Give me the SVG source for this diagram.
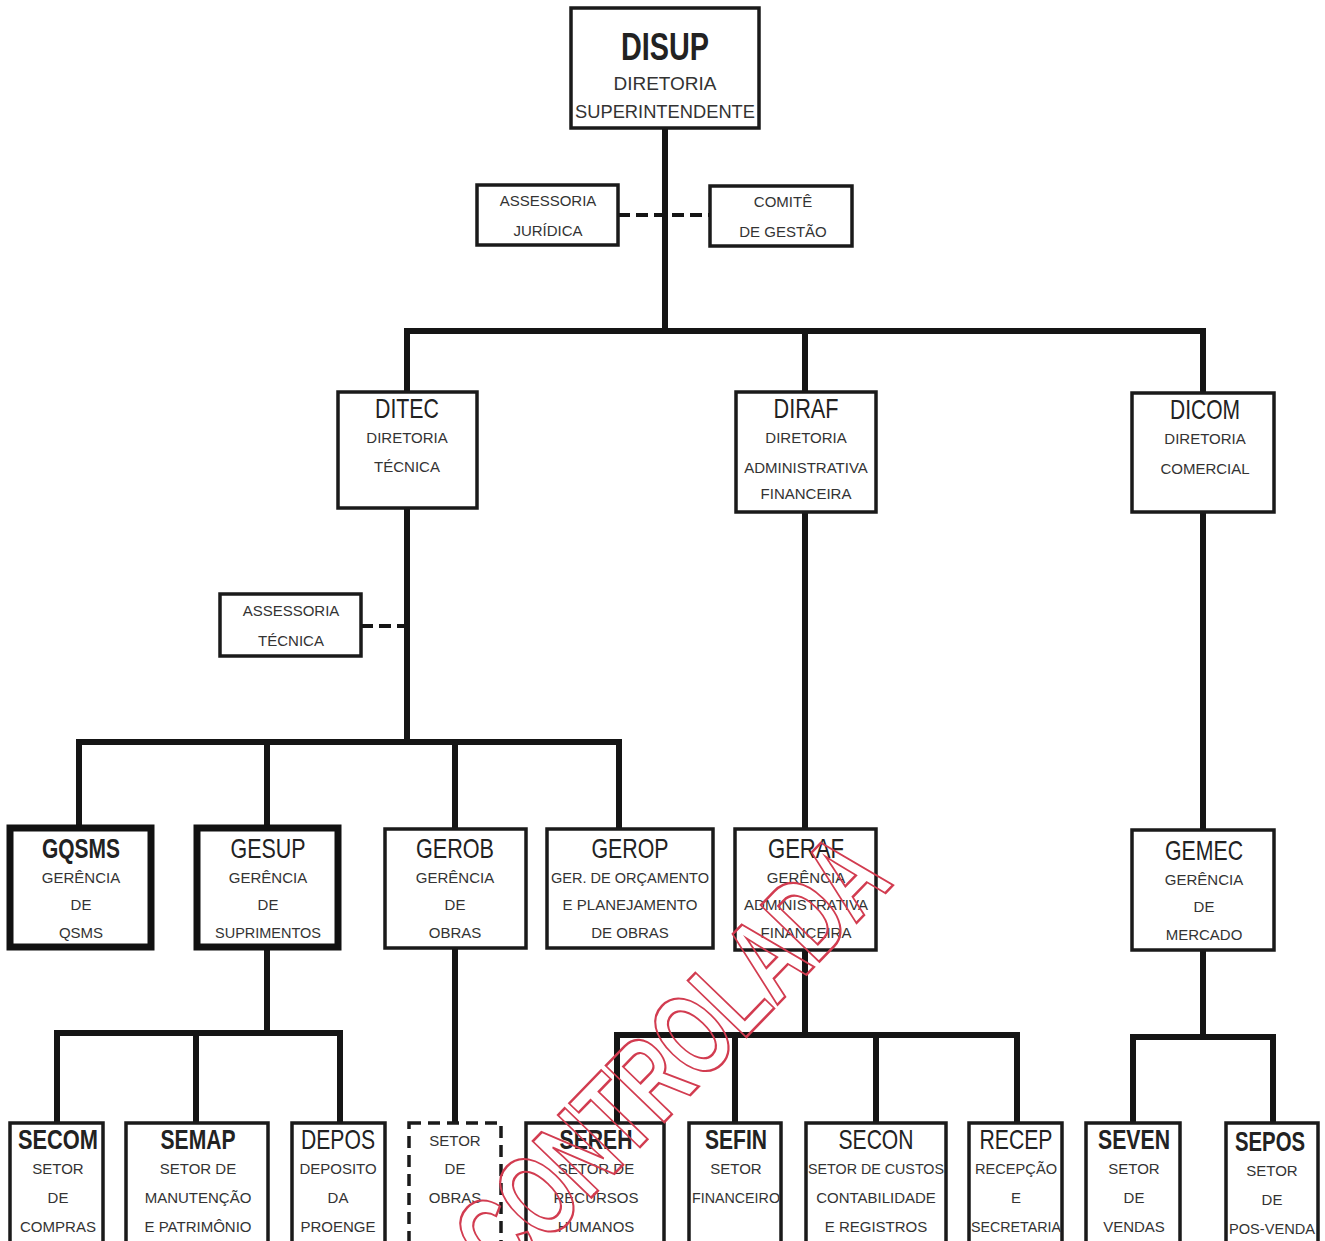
<svg xmlns="http://www.w3.org/2000/svg" width="1325" height="1241" viewBox="0 0 1325 1241">
<style>
.box{fill:#fff;stroke:#1a1a1a;stroke-width:3.5}
.thick{fill:#fff;stroke:#111;stroke-width:7}
.dbox{fill:#fff;stroke:#1a1a1a;stroke-width:3.5;stroke-dasharray:12 7}
.t{font-family:"Liberation Sans",Arial,sans-serif;font-size:28px;fill:#222;text-anchor:middle}
.tb{font-weight:bold}
.s{font-family:"Liberation Sans",Arial,sans-serif;font-size:15px;fill:#333;text-anchor:middle}
.c{fill:none;stroke:#151515;stroke-width:6}
.cd{fill:none;stroke:#151515;stroke-width:4;stroke-dasharray:12 6}
.wm{font-family:"Liberation Sans",Arial,sans-serif;font-weight:bold;font-size:118px;fill:none;stroke:#d23c50;stroke-width:2.5;text-anchor:middle}
</style>
<rect width="1325" height="1241" fill="#fff"/>
<g id="connectors">
<path class="c" d="M665 128V331M404 331H1206M407 331V392M805 331V392M1203 331V393"/>
<path class="cd" d="M618 215H710"/>
<path class="c" d="M407 508V742M76 742H622M79 742V826M267 742V826M455 742V828M619 742V828"/>
<path class="cd" d="M361 626H407"/>
<path class="c" d="M805 512V828M1203 512V830"/>
<path class="c" d="M267 948V1033M54 1033H343M57 1033V1123M196 1033V1123M340 1033V1123"/>
<path class="c" d="M455 948V1123"/>
<path class="c" d="M805 950V1035M614 1035H1020M617 1035V1123M735 1035V1123M876 1035V1123M1017 1035V1123"/>
<path class="c" d="M1203 950V1037M1130 1037H1276M1133 1037V1123M1273 1037V1123"/>
</g>
<g id="disup"><rect class="box" x="571" y="8" width="188" height="120"/>
<text class="t tb" x="665" y="60" style="font-size:38px" textLength="88" lengthAdjust="spacingAndGlyphs">DISUP</text>
<text class="s" x="665" y="90" style="font-size:19px">DIRETORIA</text>
<text class="s" x="665" y="118" style="font-size:19px" textLength="180" lengthAdjust="spacingAndGlyphs">SUPERINTENDENTE</text></g>
<g id="ass-juridica"><rect class="box" x="477" y="185" width="141" height="60"/>
<text class="s" x="548" y="206">ASSESSORIA</text><text class="s" x="548" y="236">JURÍDICA</text></g>
<g id="comite"><rect class="box" x="710" y="186" width="142" height="60"/>
<text class="s" x="783" y="207">COMITÊ</text><text class="s" x="783" y="237">DE GESTÃO</text></g>
<g id="ditec"><rect class="box" x="338" y="392" width="139" height="116"/>
<text class="t" x="407" y="418" textLength="64" lengthAdjust="spacingAndGlyphs">DITEC</text>
<text class="s" x="407" y="443">DIRETORIA</text><text class="s" x="407" y="472">TÉCNICA</text></g>
<g id="diraf"><rect class="box" x="736" y="392" width="140" height="120"/>
<text class="t" x="806" y="418" textLength="65" lengthAdjust="spacingAndGlyphs">DIRAF</text>
<text class="s" x="806" y="443">DIRETORIA</text><text class="s" x="806" y="473">ADMINISTRATIVA</text><text class="s" x="806" y="499">FINANCEIRA</text></g>
<g id="dicom"><rect class="box" x="1132" y="393" width="142" height="119"/>
<text class="t" x="1205" y="419" textLength="70" lengthAdjust="spacingAndGlyphs">DICOM</text>
<text class="s" x="1205" y="444">DIRETORIA</text><text class="s" x="1205" y="474">COMERCIAL</text></g>
<g id="ass-tecnica"><rect class="box" x="220" y="594" width="141" height="62"/>
<text class="s" x="291" y="616">ASSESSORIA</text><text class="s" x="291" y="646">TÉCNICA</text></g>
<g id="gqsms"><rect class="thick" x="10" y="828" width="141" height="119"/>
<text class="t tb" x="81" y="858" textLength="78" lengthAdjust="spacingAndGlyphs">GQSMS</text>
<text class="s" x="81" y="883">GERÊNCIA</text><text class="s" x="81" y="910">DE</text><text class="s" x="81" y="938">QSMS</text></g>
<g id="gesup"><rect class="thick" x="197" y="828" width="141" height="119"/>
<text class="t" x="268" y="858" textLength="75" lengthAdjust="spacingAndGlyphs">GESUP</text>
<text class="s" x="268" y="883">GERÊNCIA</text><text class="s" x="268" y="910">DE</text><text class="s" x="268" y="938" textLength="106" lengthAdjust="spacingAndGlyphs">SUPRIMENTOS</text></g>
<g id="gerob"><rect class="box" x="385" y="829" width="141" height="119"/>
<text class="t" x="455" y="858" textLength="78" lengthAdjust="spacingAndGlyphs">GEROB</text>
<text class="s" x="455" y="883">GERÊNCIA</text><text class="s" x="455" y="910">DE</text><text class="s" x="455" y="938">OBRAS</text></g>
<g id="gerop"><rect class="box" x="547" y="829" width="166" height="119"/>
<text class="t" x="630" y="858" textLength="77" lengthAdjust="spacingAndGlyphs">GEROP</text>
<text class="s" x="630" y="883" textLength="158" lengthAdjust="spacingAndGlyphs">GER. DE ORÇAMENTO</text><text class="s" x="630" y="910">E PLANEJAMENTO</text><text class="s" x="630" y="938">DE OBRAS</text></g>
<g id="geraf"><rect class="box" x="735" y="829" width="141" height="121"/>
<text class="t" x="806" y="858" textLength="76" lengthAdjust="spacingAndGlyphs">GERAF</text>
<text class="s" x="806" y="883">GERÊNCIA</text><text class="s" x="806" y="910" textLength="124" lengthAdjust="spacingAndGlyphs">ADMINISTRATIVA</text><text class="s" x="806" y="938">FINANCEIRA</text></g>
<g id="gemec"><rect class="box" x="1132" y="830" width="142" height="120"/>
<text class="t" x="1204" y="860" textLength="78" lengthAdjust="spacingAndGlyphs">GEMEC</text>
<text class="s" x="1204" y="885">GERÊNCIA</text><text class="s" x="1204" y="912">DE</text><text class="s" x="1204" y="940">MERCADO</text></g>
<g id="secom"><rect class="box" x="10" y="1123" width="93" height="120"/>
<text class="t tb" x="58" y="1149" textLength="80" lengthAdjust="spacingAndGlyphs">SECOM</text>
<text class="s" x="58" y="1174">SETOR</text><text class="s" x="58" y="1203">DE</text><text class="s" x="58" y="1232" textLength="76" lengthAdjust="spacingAndGlyphs">COMPRAS</text></g>
<g id="semap"><rect class="box" x="126" y="1123" width="142" height="120"/>
<text class="t tb" x="198" y="1149" textLength="75" lengthAdjust="spacingAndGlyphs">SEMAP</text>
<text class="s" x="198" y="1174">SETOR  DE</text><text class="s" x="198" y="1203">MANUTENÇÃO</text><text class="s" x="198" y="1232">E PATRIMÔNIO</text></g>
<g id="depos"><rect class="box" x="292" y="1123" width="93" height="120"/>
<text class="t" x="338" y="1149" textLength="74" lengthAdjust="spacingAndGlyphs">DEPOS</text>
<text class="s" x="338" y="1174">DEPOSITO</text><text class="s" x="338" y="1203">DA</text><text class="s" x="338" y="1232">PROENGE</text></g>
<g id="setor-obras"><rect class="dbox" x="409" y="1123" width="92" height="120"/>
<text class="s" x="455" y="1146">SETOR</text><text class="s" x="455" y="1174">DE</text><text class="s" x="455" y="1203">OBRAS</text></g>
<g id="sereh"><rect class="box" x="526" y="1123" width="138" height="120"/>
<text class="t tb" x="596" y="1149" textLength="73" lengthAdjust="spacingAndGlyphs">SEREH</text>
<text class="s" x="596" y="1174">SETOR  DE</text><text class="s" x="596" y="1203">RECURSOS</text><text class="s" x="596" y="1232">HUMANOS</text></g>
<g id="sefin"><rect class="box" x="689" y="1123" width="92" height="120"/>
<text class="t tb" x="736" y="1149" textLength="62" lengthAdjust="spacingAndGlyphs">SEFIN</text>
<text class="s" x="736" y="1174">SETOR</text><text class="s" x="736" y="1203" textLength="88" lengthAdjust="spacingAndGlyphs">FINANCEIRO</text></g>
<g id="secon"><rect class="box" x="806" y="1123" width="140" height="120"/>
<text class="t" x="876" y="1149" textLength="75" lengthAdjust="spacingAndGlyphs">SECON</text>
<text class="s" x="876" y="1174" textLength="136" lengthAdjust="spacingAndGlyphs">SETOR DE CUSTOS</text><text class="s" x="876" y="1203">CONTABILIDADE</text><text class="s" x="876" y="1232">E REGISTROS</text></g>
<g id="recep"><rect class="box" x="969" y="1123" width="93" height="120"/>
<text class="t" x="1016" y="1149" textLength="73" lengthAdjust="spacingAndGlyphs">RECEP</text>
<text class="s" x="1016" y="1174" textLength="82" lengthAdjust="spacingAndGlyphs">RECEPÇÃO</text><text class="s" x="1016" y="1203">E</text><text class="s" x="1016" y="1232" textLength="90" lengthAdjust="spacingAndGlyphs">SECRETARIA</text></g>
<g id="seven"><rect class="box" x="1086" y="1123" width="94" height="120"/>
<text class="t tb" x="1134" y="1149" textLength="72" lengthAdjust="spacingAndGlyphs">SEVEN</text>
<text class="s" x="1134" y="1174">SETOR</text><text class="s" x="1134" y="1203">DE</text><text class="s" x="1134" y="1232">VENDAS</text></g>
<g id="sepos"><rect class="box" x="1226" y="1123" width="92" height="120"/>
<text class="t tb" x="1270" y="1151" textLength="70" lengthAdjust="spacingAndGlyphs">SEPOS</text>
<text class="s" x="1272" y="1176">SETOR</text><text class="s" x="1272" y="1205">DE</text><text class="s" x="1272" y="1234" textLength="86" lengthAdjust="spacingAndGlyphs">POS-VENDA</text></g>
<g id="watermark"><text class="wm" x="0" y="0" transform="translate(700 1085) rotate(-46)" textLength="560" lengthAdjust="spacingAndGlyphs">CONTROLADA</text></g>
</svg>
